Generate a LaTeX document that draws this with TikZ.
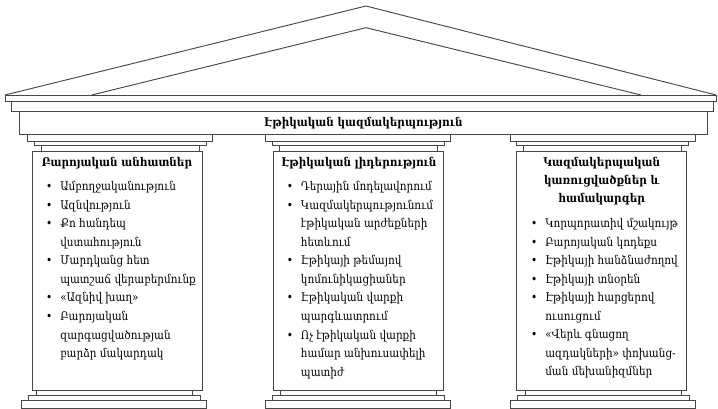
\documentclass[tikz,border=0pt]{standalone}
\usepackage{fontspec}
\setmainfont{DejaVu Serif}[FakeStretch=0.87]
\newcommand\bodyfont{\fontsize{9}{13.9}\selectfont}
\newcommand\headfont{\fontsize{9}{13.5}\selectfont\bfseries}
\newcommand\bl{\llap{\textbullet\hspace{6pt}}}
% one pillar: #1 capital centre, #2 shaft centre, #3 base centre
\newcommand\pillar[3]{%
  \draw[outline] ({#2-85},151) rectangle ({#2+85},390.7);
  \draw[outline] ({#1-92.5},134.5) rectangle ({#1+92.5},141.7);
  \draw[outline] ({#1-86},141.7) rectangle ({#1+86},145.7);
  \draw[outline] ({#1-79},145.7) rectangle ({#1+79},151);
  \draw[outline] ({#3-78},390.7) rectangle ({#3+78},395.5);
  \draw[outline] ({#3-86},395.5) rectangle ({#3+86},400.5);
  \draw[outline] ({#3-92.5},400.5) rectangle ({#3+92.5},408);
}
\begin{document}
\begin{tikzpicture}[x=0.75pt,y=-0.75pt,
  outline/.style={draw=black!72, line width=0.7pt, fill=white},
  head/.style={inner sep=0pt, align=center, font=\headfont},
  list/.style={inner sep=0pt, anchor=base west, font=\bodyfont}]
\useasboundingbox (0,0) rectangle (718,409);
% pediment
\draw[outline] (5,95) -- (366,6) -- (716,95);
\draw[outline] (91.7,95) -- (366,27.7) -- (641,95);
% entablature
\draw[outline] (5,95) rectangle (716,101.7);
\draw[outline] (11.7,101.7) rectangle (713,111.7);
\draw[outline] (19.3,111.7) rectangle (707,134.5);
\node[head] (title) at (363.5,123) {Էթիկական կազմակերպություն};
% pillars
\pillar{120}{117.5}{114}
\pillar{358}{358.4}{358}
\pillar{602.7}{601.8}{603}
% first pillar
\node[head] (head1) at (117,163.3) {Բարոյական անհատներ};
\node[list] (list1) at (60,190.8) {\begin{tabular}[t]{@{}l@{}}
\bl Ամբողջականություն\\
\bl Ազնվություն\\
\bl Քո հանդեպ\\
վստահություն\\
\bl Մարդկանց հետ\\
պատշաճ վերաբերմունք\\
\bl «Ազնիվ խաղ»\\
\bl Բարոյական\\
զարգացվածության\\
բարձր մակարդակ
\end{tabular}};
% second pillar
\node[head] (head2) at (359,163.3) {Էթիկական լիդերություն};
\node[list] (list2) at (300.7,190.8) {\begin{tabular}[t]{@{}l@{}}
\bl Դերային մոդելավորում\\
\bl Կազմակերպությունում\\
էթիկական արժեքների\\
հետևում\\
\bl Էթիկայի թեմայով\\
կոմունիկացիաներ\\
\bl Էթիկական վարքի\\
պարգևատրում\\
\bl Ոչ էթիկական վարքի\\
համար անխուսափելի\\
պատիժ
\end{tabular}};
% third pillar
\node[head, anchor=north] (head3) at (601.7,157) {Կազմակերպական\\կառուցվածքներ և\\համակարգեր};
\node[list] (list3) at (545,227.5) {\begin{tabular}[t]{@{}l@{}}
\bl Կորպորատիվ մշակույթ\\
\bl Բարոյական կոդեքս\\
\bl Էթիկայի հանձնաժողով\\
\bl Էթիկայի տնօրեն\\
\bl Էթիկայի հարցերով\\
ուսուցում\\
\bl «Վերև գնացող\\
ազդակների» փոխանց-\\
ման մեխանիզմներ
\end{tabular}};
\end{tikzpicture}
\end{document}
